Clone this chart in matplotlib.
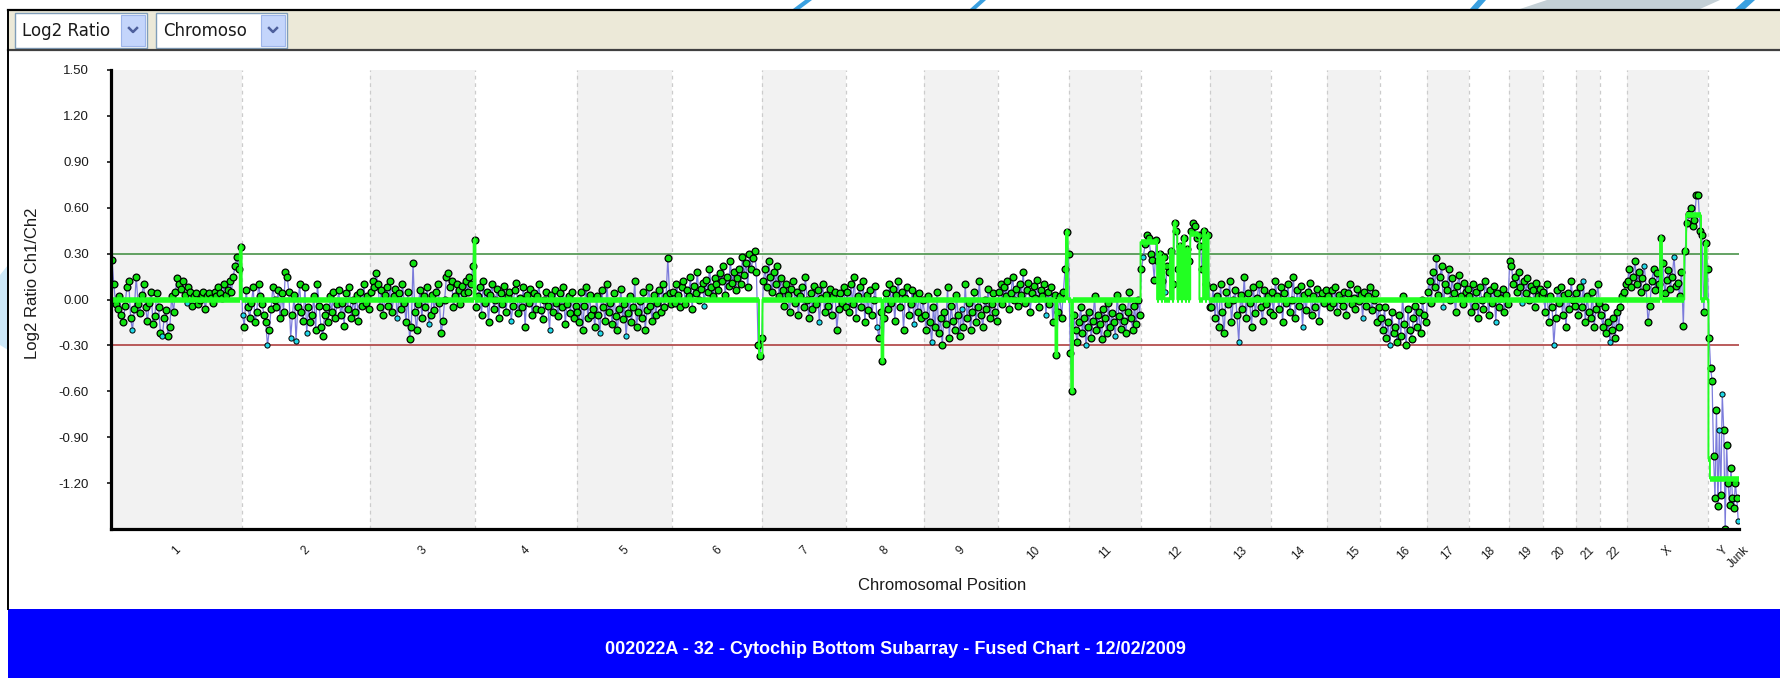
import numpy as np
import matplotlib
matplotlib.use("Agg")
import matplotlib.pyplot as plt
from matplotlib.patches import Rectangle, Polygon
from matplotlib.lines import Line2D

W, H = 1781, 678

# chromosome names and lengths (Mb, hg18) as laid out on the x axis
chrom_names = ['1', '2', '3', '4', '5', '6', '7', '8', '9', '10', '11', '12',
               '13', '14', '15', '16', '17', '18', '19', '20', '21', '22', 'X', 'Y']
chrom_mb = [247.2, 242.8, 199.5, 191.3, 180.9, 170.9, 158.8, 146.3, 140.3, 135.4,
            134.5, 132.3, 114.1, 106.4, 100.3, 88.8, 78.8, 76.1, 63.8, 62.4,
            46.9, 49.7, 154.9, 57.8]

# log2 ratio per probe
c1 = [0.26, 0.10, -0.03, -0.06, 0.02, -0.10, -0.15, -0.04, 0.08, 0.12,
      -0.12, -0.20, -0.06, 0.15, -0.03, -0.09, 0.03, 0.10, -0.05, -0.14,
      -0.02, 0.05, -0.16, -0.11, 0.04, -0.05, -0.22, -0.24, -0.12, -0.07,
      -0.24, -0.18, 0.02, -0.08, 0.05, 0.14, 0.10, 0.07, 0.12, 0.03,
      -0.02, 0.08, 0.05, -0.04, 0.02, 0.04, -0.03, 0.00, 0.03, 0.05,
      -0.06, 0.02, 0.04, 0.01, -0.02, 0.05, 0.02, 0.08, 0.04, 0.01,
      0.10, 0.03, 0.06, 0.12, 0.05, 0.15, 0.22, 0.28, 0.20, 0.34]
c2 = [-0.10, -0.18, 0.06, -0.05, -0.12, -0.02, 0.08, -0.15, -0.08, 0.10,
      0.02, -0.03, -0.10, -0.15, -0.30, -0.20, -0.06, 0.08, 0.00, -0.05,
      0.06, -0.12, 0.04, -0.08, 0.18, 0.15, 0.05, -0.25, -0.10, 0.03,
      -0.27, -0.05, 0.10, -0.08, -0.14, 0.08, -0.22, -0.05, -0.15, -0.10,
      0.02, -0.20, 0.10, -0.04, -0.18, -0.24, -0.10, -0.05, -0.15, 0.02,
      -0.08, 0.05, -0.12, -0.03, 0.06, -0.10, -0.02, -0.17, 0.04, -0.06,
      0.08, -0.12, 0.00, -0.08, 0.03, -0.14, 0.05, -0.04, 0.10, -0.02,
      0.02, -0.06]
c3 = [0.05, 0.12, 0.08, 0.17, 0.10, -0.05, 0.06, -0.10, 0.03, 0.08,
      -0.04, 0.12, -0.08, 0.02, 0.07, -0.12, 0.04, -0.06, 0.10, -0.02,
      -0.15, 0.05, -0.26, -0.18, 0.24, -0.08, -0.20, -0.03, 0.06, -0.12,
      0.02, -0.05, 0.08, -0.16, -0.10, 0.03, -0.07, 0.05, 0.10, -0.02,
      -0.22, -0.14, 0.00, 0.15, 0.17, 0.08, 0.12, -0.05, 0.02, 0.10,
      0.06, -0.03, 0.09, 0.04, 0.12, 0.05, 0.15, 0.10, 0.22, 0.39]
c4 = [-0.05, 0.02, 0.08, -0.10, 0.12, -0.02, 0.05, -0.15, 0.03, 0.10,
      -0.06, 0.00, 0.07, -0.12, 0.04, -0.03, 0.09, -0.08, 0.02, 0.05,
      -0.14, -0.04, 0.06, 0.11, -0.09, 0.01, -0.05, 0.08, -0.18, 0.03,
      -0.02, 0.07, -0.10, 0.04, -0.06, 0.02, 0.10, -0.07, -0.13, 0.00,
      0.05, -0.04, -0.20, 0.03, -0.08, 0.06, -0.02, -0.11, 0.04, -0.05,
      0.08, -0.16, -0.03, 0.02, -0.09, 0.05, -0.12, -0.04]
c5 = [-0.08, -0.15, 0.05, -0.20, -0.04, 0.08, -0.12, 0.03, -0.10, -0.06,
      -0.18, 0.02, -0.10, -0.22, 0.06, -0.05, -0.14, 0.10, -0.08, -0.02,
      -0.16, 0.04, -0.11, -0.20, -0.06, 0.07, -0.13, -0.03, -0.24, -0.09,
      0.02, -0.15, -0.05, 0.12, -0.18, -0.08, -0.01, -0.12, 0.05, -0.20,
      -0.07, 0.08, -0.04, -0.14, 0.03, -0.10, -0.02, 0.06, -0.08, 0.10,
      -0.05, 0.02, 0.27, 0.04, -0.03]
c6 = [0.05, -0.02, 0.10, 0.03, -0.05, 0.08, 0.12, -0.03, 0.06, 0.02,
      0.15, -0.06, 0.09, 0.04, 0.18, 0.00, 0.07, 0.11, -0.04, 0.13,
      0.05, 0.20, 0.08, 0.02, 0.14, 0.10, 0.06, 0.17, 0.12, 0.22,
      0.03, 0.15, 0.09, 0.25, 0.11, 0.18, 0.06, 0.14, 0.20, 0.10,
      0.28, 0.16, 0.24, 0.08, 0.30, 0.20, 0.27, 0.32, 0.18, -0.30,
      -0.37, -0.25]
c7 = [0.12, 0.20, 0.08, 0.25, 0.15, 0.05, 0.18, 0.10, 0.22, 0.02,
      0.14, 0.06, -0.04, 0.10, 0.03, -0.08, 0.07, 0.12, -0.02, 0.05,
      -0.10, 0.02, 0.08, -0.05, 0.15, 0.00, -0.12, 0.04, -0.06, 0.09,
      -0.03, 0.06, -0.15, 0.01, 0.10, -0.08, 0.03, -0.04, 0.07, -0.10,
      0.02, 0.05, -0.20, -0.06, 0.04, -0.02, 0.08, -0.05]
c8 = [0.05, -0.08, 0.10, -0.03, 0.15, -0.12, 0.02, 0.08, -0.05, 0.12,
      -0.15, 0.03, -0.07, 0.06, -0.10, 0.00, 0.09, -0.18, -0.25, -0.08,
      -0.40, -0.12, 0.04, -0.06, 0.10, -0.02, 0.07, -0.14, 0.03, 0.12,
      -0.05, 0.05, -0.20, 0.01, 0.08, -0.10, -0.03, 0.06, -0.16, 0.02,
      -0.08, 0.04, -0.12, 0.00]
c9 = [-0.10, -0.20, 0.02, -0.15, -0.28, -0.05, -0.18, 0.05, -0.22, -0.12,
      -0.30, -0.08, -0.16, 0.08, -0.25, -0.04, -0.14, -0.20, 0.03, -0.10,
      -0.24, -0.06, -0.18, 0.10, -0.12, -0.02, -0.20, -0.08, 0.05, -0.15,
      -0.05, 0.12, -0.10, -0.18, 0.00, -0.06, 0.07, -0.12, -0.03, 0.04,
      -0.08, -0.14]
c10 = [0.05, 0.10, -0.03, 0.08, 0.02, 0.12, -0.06, 0.04, 0.15, 0.00,
       0.07, -0.04, 0.10, 0.03, 0.18, -0.02, 0.06, 0.11, -0.08, 0.04,
       0.09, 0.01, 0.13, -0.05, 0.06, 0.02, 0.10, -0.10, 0.05, -0.03,
       0.08, -0.15, 0.03, -0.36, -0.08, 0.02, -0.12, 0.05, 0.20, 0.44,
       0.30]
c11 = [-0.35, -0.60, -0.10, -0.20, -0.28, -0.15, -0.05, -0.22, -0.12, -0.30,
       -0.18, -0.08, -0.25, -0.14, 0.02, -0.20, -0.10, -0.16, -0.26, -0.06,
       -0.12, -0.22, -0.02, -0.18, -0.09, -0.15, -0.24, 0.03, -0.11, -0.19,
       -0.05, -0.14, -0.22, -0.08, 0.05, -0.12, -0.20, -0.04, -0.16, 0.00,
       -0.10]
c12 = [0.20, 0.28, 0.36, 0.42, 0.40, 0.30, 0.26, 0.13, 0.39,
       0.25, 0.30, 0.12, 0.28, 0.05, 0.22, 0.18, 0.32, 0.10, 0.50,
       0.45, 0.20, 0.35, 0.28, 0.40, 0.15, 0.33, 0.25,
       0.45, 0.50, 0.48, 0.40,
       0.42, 0.35, 0.20, 0.45, 0.10, 0.42, -0.05]
c13 = [-0.05, 0.08, -0.12, 0.02, -0.18, 0.10, -0.08, -0.22, 0.05, -0.03,
       0.12, -0.15, 0.00, 0.06, -0.10, -0.28, 0.03, -0.06, 0.15, -0.12,
       0.04, -0.02, -0.18, 0.08, -0.09, 0.01, 0.10, -0.05, -0.14, 0.06,
       -0.03, 0.02, -0.08]
c14 = [0.05, -0.10, 0.12, 0.02, -0.06, 0.08, -0.15, 0.04, -0.02, 0.10,
       -0.08, 0.00, 0.15, -0.12, 0.06, -0.04, 0.09, -0.18, 0.03, -0.07,
       0.05, 0.11, -0.10, 0.02, -0.05, 0.07, -0.14, 0.01, 0.04, -0.02,
       0.06]
c15 = [0.02, -0.05, 0.06, -0.02, 0.08, -0.08, 0.03, 0.00, -0.04, 0.05,
       -0.10, 0.04, 0.10, -0.03, 0.01, -0.06, 0.07, -0.01, 0.03, -0.12,
       0.05, -0.04, 0.02, 0.08, -0.07, 0.00, 0.04, -0.15, -0.05]
c16 = [-0.12, -0.20, -0.05, -0.25, -0.15, -0.30, -0.08, -0.22, -0.18, -0.28,
       -0.10, -0.24, 0.02, -0.16, -0.30, -0.06, -0.20, -0.26, -0.12, -0.04,
       -0.18, -0.08, -0.22, 0.00, -0.10, -0.15]
c17 = [0.05, 0.12, -0.02, 0.18, 0.08, 0.27, 0.03, 0.15, 0.22, -0.05,
       0.10, 0.06, 0.20, 0.00, 0.14, 0.04, -0.08, 0.09, 0.16, 0.02,
       -0.03, 0.11, 0.05, 0.07]
c18 = [0.02, -0.08, 0.10, -0.04, 0.05, -0.12, 0.08, 0.00, -0.06, 0.12,
       0.03, -0.10, 0.06, -0.02, 0.09, -0.15, 0.04, -0.05, 0.01, 0.07,
       -0.08, 0.03, -0.03]
c19 = [0.25, 0.22, 0.10, 0.15, 0.05, 0.18, 0.08, -0.02, 0.12, 0.04,
       0.14, 0.00, 0.09, 0.06, -0.05, 0.11, 0.02, 0.07, 0.03]
c20 = [0.05, -0.08, 0.10, -0.15, 0.02, -0.05, -0.30, -0.12, 0.06, -0.02,
       0.08, -0.10, 0.03, -0.18, 0.04, -0.06, 0.12, 0.00, -0.04]
c21 = [0.04, -0.10, 0.08, -0.05, 0.12, -0.15, 0.02, -0.08, -0.12, 0.05,
       -0.18, -0.06, 0.10, -0.02]
c22 = [-0.10, -0.18, -0.05, -0.22, -0.15, -0.28, -0.20, -0.12, -0.25, -0.08,
       -0.18, -0.05, 0.02, 0.05, 0.10]
cX = [0.12, 0.20, 0.08, 0.15, 0.25, 0.10, 0.18, 0.05, 0.14, 0.22,
      0.08, -0.15, -0.04, 0.12, 0.20, 0.06, 0.17, 0.10, 0.40, 0.24,
      0.04, 0.13, 0.19, 0.07, 0.15, 0.28, 0.09, 0.11, 0.02, 0.18,
      -0.17, 0.32,
      0.50, 0.56, 0.60, 0.48, 0.52, 0.68, 0.68, 0.45,
      0.42, -0.08, 0.37, 0.20]
cY = [-0.25, -0.45, -0.53, -1.02, -1.30, -0.72, -1.35, -0.85, -1.28, -0.62,
      -0.85, -1.50, -0.95, -1.20, -1.34, -1.10, -1.30, -1.36, -1.20, -1.30,
      -1.45]

# probes drawn in cyan (index within chromosome)
cyan_idx = {'1': [11, 27, 40], '2': [0, 14, 27, 30, 36], '3': [15, 33], '4': [20, 42],
            '5': [13, 28], '6': [18], '7': [32], '8': [17, 38], '9': [4, 21],
            '10': [27], '11': [9, 26], '12': [1, 13], '13': [15], '14': [17],
            '15': [19], '16': [5], '17': [9], '18': [15], '19': [7], '20': [6],
            '21': [4], '22': [5], 'X': [9, 25], 'Y': [7, 9, 20]}

# segmentation calls that differ from 0: (chromosome, first probe, end probe, level)
seg_calls = [('1', 69, 70, 0.34), ('3', 59, 60, 0.39), ('6', 50, 52, -0.36),
             ('8', 20, 21, -0.40), ('10', 33, 34, -0.36), ('10', 39, 40, 0.44),
             ('11', 1, 2, -0.60),
             ('12', 0, 9, 0.375), ('12', 10, 11, 0.30), ('12', 12, 13, 0.28),
             ('12', 16, 17, 0.32), ('12', 18, 19, 0.50), ('12', 19, 20, 0.45),
             ('12', 21, 22, 0.35), ('12', 23, 24, 0.40), ('12', 25, 26, 0.33),
             ('12', 27, 31, 0.43), ('12', 31, 32, 0.42), ('12', 34, 35, 0.45),
             ('12', 36, 37, 0.42),
             ('X', 18, 19, 0.40), ('X', 31, 32, 0.32), ('X', 32, 40, 0.55),
             ('X', 42, 43, 0.37),
             ('Y', 0, 1, -1.04), ('Y', 1, 21, -1.17)]

y_ticks = [1.50, 1.20, 0.90, 0.60, 0.30, 0.00, -0.30, -0.60, -0.90, -1.20]
gain_cut = 0.30
loss_cut = -0.30
y_label = "Log2 Ratio Ch1/Ch2"
x_label = "Chromosomal Position"
banner = "002022A - 32 - Cytochip Bottom Subarray - Fused Chart - 12/02/2009"

probes = [c1, c2, c3, c4, c5, c6, c7, c8, c9, c10, c11, c12, c13, c14, c15,
          c16, c17, c18, c19, c20, c21, c22, cX, cY]

plt.rcParams['font.family'] = ['Liberation Sans', 'DejaVu Sans']

# lay probes out evenly inside their chromosome
starts = np.concatenate([[0.0], np.cumsum(chrom_mb)])
xs, vs, cy, seg, left, right = [], [], [], [], [], []
for k, name in enumerate(chrom_names):
    v = np.array(probes[k], dtype=float)
    n = len(v)
    edges = np.linspace(starts[k], starts[k + 1], n + 1)
    s = np.zeros(n)
    for c, a, b, lev in seg_calls:
        if c == name:
            s[a:b] = lev
    flag = np.zeros(n, dtype=bool)
    flag[cyan_idx.get(name, [])] = True
    xs.append((edges[:-1] + edges[1:]) / 2)
    vs.append(v)
    cy.append(flag)
    seg.append(s)
    left.append(edges[:-1])
    right.append(edges[1:])
xs = np.concatenate(xs)
vs = np.concatenate(vs)
cy = np.concatenate(cy)
seg = np.concatenate(seg)
left = np.concatenate(left)
right = np.concatenate(right)
total = starts[-1]

fig = plt.figure(figsize=(W / 100, H / 100), dpi=100)
fig.patch.set_facecolor('white')


def fx(x):
    return x / W


def fy(y):
    return 1 - y / H


def box(x0, y0, x1, y1, **kw):
    fig.add_artist(Rectangle((fx(x0), fy(y1)), fx(x1) - fx(x0), fy(y0) - fy(y1),
                             transform=fig.transFigure, **kw))


def hline(x0, x1, y, **kw):
    fig.add_artist(Line2D([fx(x0), fx(x1)], [fy(y), fy(y)], transform=fig.transFigure, **kw))


# bits of the desktop behind the window
for pts, col in [([(1547, 0), (1720, 0), (1700, 9), (1520, 9)], '#c4d0d6'),
                 ([(1478, 0), (1486, 0), (1478, 9), (1470, 9)], '#3aa0e0'),
                 ([(1745, 0), (1755, 0), (1745, 9), (1735, 9)], '#3aa0e0'),
                 ([(805, 0), (812, 0), (800, 9), (793, 9)], '#3aa0e0'),
                 ([(980, 0), (986, 0), (976, 9), (970, 9)], '#3aa0e0'),
                 ([(0, 275), (8, 265), (8, 350), (0, 345)], '#cde8f8')]:
    fig.add_artist(Polygon([(fx(a), fy(b)) for a, b in pts], closed=True,
                           transform=fig.transFigure, fc=col, ec='none'))

# toolbar with the two drop-downs
box(8, 10, W, 50, fc='#ece9d8', ec='none')
hline(8, W, 10, color='black', lw=1.6)
hline(8, W, 50, color='#404040', lw=1.6)
fig.add_artist(Line2D([fx(8), fx(8)], [fy(10), fy(609)], transform=fig.transFigure,
                      color='black', lw=1.4))
for bx0, bx1, label in [(15, 147, 'Log2 Ratio'), (156, 287, 'Chromoso')]:
    box(bx0, 13, bx1, 48, fc='white', ec='#7f9db9', lw=1.0)
    box(bx1 - 26, 15, bx1 - 2, 46, fc='#c4d5fb', ec='#9db5ea', lw=0.8)
    cx = bx1 - 14
    fig.add_artist(Line2D([fx(cx - 4), fx(cx), fx(cx + 4)], [fy(28), fy(32), fy(28)],
                          transform=fig.transFigure, color='#4d5f9c', lw=1.8))
    fig.text(fx(bx0 + 7), fy(31), label, fontsize=12, color='#1a1a1a',
             ha='left', va='center', family=['DejaVu Sans'])

# blue banner at the bottom
box(8, 609, W, H, fc='#0000ff', ec='none')
fig.text(fx(895), fy(650), banner, color='white', fontsize=13, fontweight='bold',
         ha='center', va='center', family=['Liberation Sans Narrow', 'Liberation Sans'])

# the chart itself
ax = fig.add_axes([fx(111), fy(529), fx(1739) - fx(111), fy(70) - fy(529)])
ax.set_xlim(0, total)
ax.set_ylim(-1.5, 1.5)
ax.set_facecolor('white')

for k in range(0, len(chrom_names), 2):
    ax.axvspan(starts[k], starts[k + 1], color='#f2f2f2', lw=0, zorder=0)
for b in starts[1:-1]:
    ax.axvline(b, color='#cccccc', lw=0.9, ls=(0, (3, 3)), zorder=1)

ax.axhline(gain_cut, color='#3a8a3a', lw=1.1, zorder=2)
ax.axhline(loss_cut, color='#a83030', lw=1.1, zorder=2)

ax.plot(xs, vs, color='#6e6ed8', lw=0.9, alpha=0.9, zorder=3)
ax.scatter(xs[~cy], vs[~cy], s=24, c='#10e010', edgecolors='black', linewidths=0.9, zorder=4)
ax.scatter(xs[cy], vs[cy], s=14, c='#20d8e8', edgecolors='black', linewidths=0.7, zorder=4)

# segmentation: thin verticals, thick levels
step_x = np.ravel(np.column_stack([left, right]))
step_y = np.repeat(seg, 2)
ax.plot(step_x, step_y, color='#22ff22', lw=1.4, zorder=5, solid_capstyle='butt')
ax.hlines(seg, left, right, color='#22ff22', lw=4.0, zorder=5, capstyle='butt')

for side in ['top', 'right']:
    ax.spines[side].set_visible(False)
for side in ['left', 'bottom']:
    ax.spines[side].set_linewidth(2.3)
    ax.spines[side].set_color('black')
    ax.spines[side].set_zorder(6)

ax.set_yticks(y_ticks)
ax.set_yticklabels([f"{t:.2f}" for t in y_ticks], fontsize=9.5, color='#1a1a1a')
ax.tick_params(axis='y', length=3, width=1.1, pad=13)

mids = list((starts[:-1] + starts[1:]) / 2) + [total - 1.5]
ax.set_xticks(mids)
ax.set_xticklabels(chrom_names + ['Junk'], rotation=45, ha='center', va='top',
                   fontsize=8.5, color='#1a1a1a')
ax.tick_params(axis='x', length=0, pad=11)

fig.text(fx(33), fy(283), y_label, rotation=90, fontsize=12, color='#1a1a1a',
         ha='center', va='center')
fig.text(fx(942), fy(585), x_label, fontsize=12, color='#1a1a1a',
         ha='center', va='center')

fig.savefig('out.png', dpi=100)
